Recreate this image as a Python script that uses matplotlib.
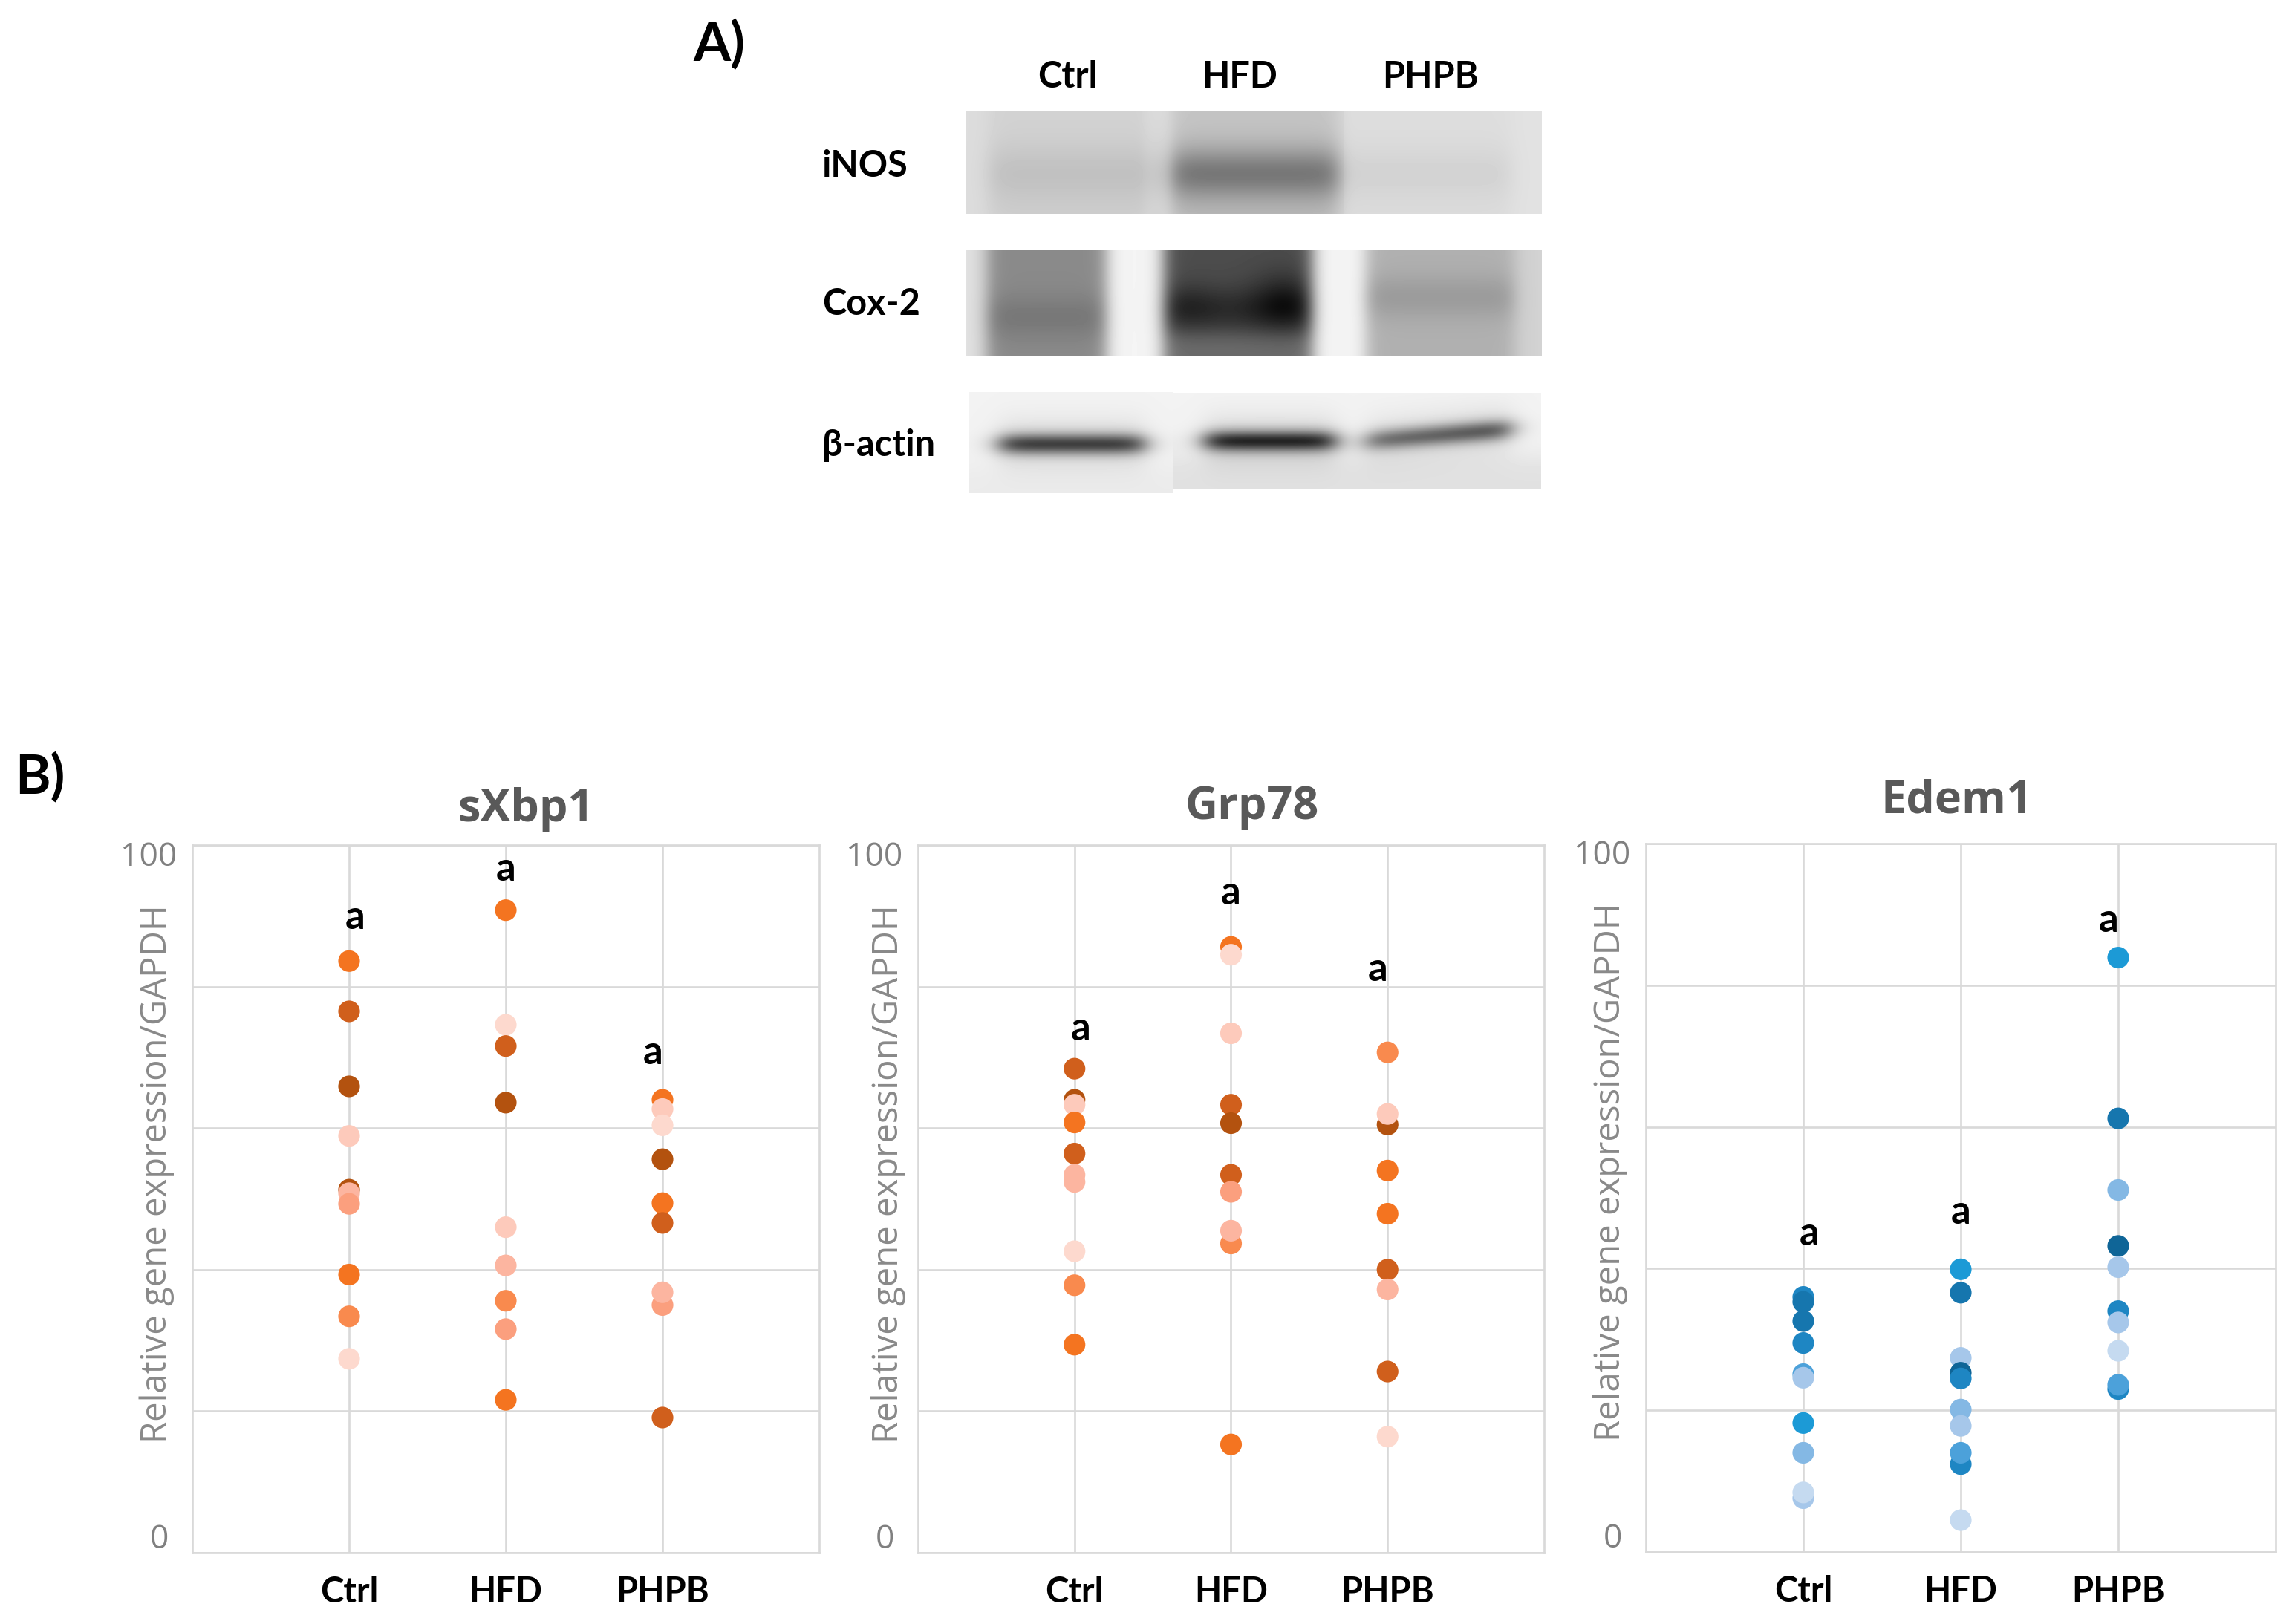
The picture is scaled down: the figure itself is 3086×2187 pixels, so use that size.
import numpy as np
import matplotlib
matplotlib.use('Agg')
import matplotlib.pyplot as plt
from matplotlib.transforms import ScaledTranslation
from matplotlib import font_manager

W, H, DPI = 3086, 2187, 100

# ---------------- data ----------------
groups = ['Ctrl', 'HFD', 'PHPB']
genes = ['sXbp1', 'Grp78', 'Edem1']

# orange shades
O1, O2, O3, O4 = '#F47420', '#D05F1C', '#B3520F', '#F98A4E'
O5, O6, O7, O8 = '#FB9F7E', '#FCB5A0', '#FDCABB', '#FDD9CE'
# blue shades
B1, B2, B3, B4 = '#1C9AD6', '#1E86C3', '#1676AE', '#0F6597'
B5, B6, B7, B8 = '#4CA1DA', '#84B8E4', '#A6C7EA', '#C5DAF0'

sxbp1_ctrl = [83.6, 76.5, 65.9, 58.9, 51.3, 50.8, 49.3, 39.3, 33.4, 27.4]
sxbp1_ctrl_col = [O1, O2, O3, O7, O3, O6, O5, O1, O4, O8]
sxbp1_hfd = [90.8, 74.6, 71.6, 63.6, 46.0, 40.6, 35.6, 31.6, 21.6]
sxbp1_hfd_col = [O1, O8, O2, O3, O7, O6, O4, O5, O1]
sxbp1_phpb = [64.0, 62.7, 60.4, 55.6, 49.4, 46.6, 35.0, 36.8, 19.1]
sxbp1_phpb_col = [O1, O7, O8, O3, O1, O2, O5, O6, O2]

grp78_ctrl = [68.4, 64.0, 63.3, 60.8, 56.4, 53.4, 52.4, 42.6, 37.8, 29.4]
grp78_ctrl_col = [O2, O3, O7, O1, O2, O6, O6, O8, O4, O1]
grp78_hfd = [85.6, 84.5, 73.4, 63.3, 60.7, 53.4, 51.0, 43.7, 45.5, 15.3]
grp78_hfd_col = [O1, O8, O7, O2, O3, O2, O5, O4, O6, O1]
grp78_phpb = [70.7, 60.5, 62.0, 54.0, 47.9, 40.0, 37.2, 25.6, 16.4]
grp78_phpb_col = [O4, O3, O7, O1, O1, O2, O6, O2, O8]

edem1_ctrl = [36.0, 35.3, 32.6, 29.5, 25.1, 24.6, 18.2, 14.0, 7.6, 8.4]
edem1_ctrl_col = [B2, B3, B3, B2, B5, B7, B1, B6, B7, B8]
edem1_hfd = [39.9, 36.6, 27.4, 25.3, 24.5, 20.1, 17.8, 12.4, 14.0, 4.5]
edem1_hfd_col = [B1, B3, B7, B4, B2, B6, B7, B2, B5, B8]
edem1_phpb = [83.9, 61.2, 51.1, 43.2, 40.2, 34.0, 32.4, 28.4, 23.0, 23.6]
edem1_phpb_col = [B1, B3, B6, B4, B7, B2, B7, B8, B2, B5]

# significance letters (centre height of the letter, in axis units)
sxbp1_letter_y = [89.5, 96.3, 70.4]
grp78_letter_y = [73.8, 93.0, 82.2]
edem1_letter_y = [44.7, 47.7, 88.9]
letters = ['a', 'a', 'a']

# western blot relative band darkness (Ctrl, HFD, PHPB)
blot_rows = ['iNOS', 'Cox-2', 'β-actin']
inos_level = [0.07, 0.16, 0.03]
inos_band = [0.04, 0.24, 0.03]
cox2_level = [0.42, 0.66, 0.27]
cox2_band = [0.07, 0.12, 0.08]
actin_band = [0.70, 0.80, 0.62]

series = {
    'sXbp1': [(sxbp1_ctrl, sxbp1_ctrl_col), (sxbp1_hfd, sxbp1_hfd_col), (sxbp1_phpb, sxbp1_phpb_col)],
    'Grp78': [(grp78_ctrl, grp78_ctrl_col), (grp78_hfd, grp78_hfd_col), (grp78_phpb, grp78_phpb_col)],
    'Edem1': [(edem1_ctrl, edem1_ctrl_col), (edem1_hfd, edem1_hfd_col), (edem1_phpb, edem1_phpb_col)],
}
letter_y = {'sXbp1': sxbp1_letter_y, 'Grp78': grp78_letter_y, 'Edem1': edem1_letter_y}

# ---------------- fonts ----------------
names = {f.name for f in font_manager.fontManager.ttflist}
BOLDF = 'Lato' if 'Lato' in names else 'Liberation Sans'
SANS = 'Open Sans' if 'Open Sans' in names else 'DejaVu Sans'
plt.rcParams['font.family'] = [SANS, 'DejaVu Sans']
BF = [BOLDF, 'DejaVu Sans']

fig = plt.figure(figsize=(W / DPI, H / DPI), dpi=DPI)
fig.patch.set_facecolor('white')


def fx(x):
    return x / W


def fy(y):
    return 1 - y / H


def px_axes(l, t, r, b):
    return fig.add_axes([l / W, 1 - b / H, (r - l) / W, (b - t) / H])


def px(dx, dy):
    return ScaledTranslation(dx / DPI, dy / DPI, fig.dpi_scale_trans)


GRID = '#D9D9D9'
panel_px = [(259, 1138, 1103, 2091), (1236, 1138, 2079, 2091), (2216, 1136, 3064, 2090)]
title_pos = [(0.532, 1.050), (0.533, 1.053), (0.493, 1.060)]
ylabel_x = [-0.029, -0.019, -0.028]
letter_dx = [8, 0, -13]

for k, gene in enumerate(genes):
    ax = px_axes(*panel_px[k])
    ax.set_xlim(0, 4)
    ax.set_ylim(0, 100)
    ax.set_axisbelow(True)
    for s in ax.spines.values():
        s.set_color(GRID)
        s.set_linewidth(1.9)
    ax.set_xticks([1, 2, 3])
    ax.set_xticklabels(groups, fontsize=34, fontweight='bold', family=BF, color='black')
    ax.set_yticks([0, 20, 40, 60, 80, 100])
    ax.set_yticklabels(['0', '', '', '', '', '100'], fontsize=32, color='#808080')
    ax.tick_params(axis='both', length=0)
    ax.tick_params(axis='x', pad=22)
    ax.tick_params(axis='y', pad=15)
    ax.grid(True, color=GRID, linewidth=1.9)
    ticks = ax.yaxis.get_major_ticks()
    ticks[0].label1.set_transform(ticks[0].label1.get_transform() + px(-11, 23))
    ticks[-1].label1.set_transform(ticks[-1].label1.get_transform() + px(0, -11))

    for gi, (vals, cols) in enumerate(series[gene]):
        ax.scatter([gi + 1] * len(vals), vals, s=440, c=cols, linewidths=0, zorder=3)
        ax.text(gi + 1, letter_y[gene][gi], letters[gi], ha='center', va='baseline',
                fontsize=38, fontweight='bold', family=BF, color='black',
                transform=ax.transData + px(letter_dx[gi], -13), zorder=4)

    ax.text(title_pos[k][0], title_pos[k][1], gene, transform=ax.transAxes, ha='center', va='center',
            fontsize=44, fontweight='bold', color='#595959')
    ax.set_ylabel('Relative gene expression/GAPDH', fontsize=34, color='#898989')
    ax.yaxis.set_label_coords(ylabel_x[k], 0.536)

# ---------------- panel labels ----------------
fig.text(fx(968), fy(60), 'A)', fontsize=52, fontweight='bold', family=BF, ha='center', va='center')
fig.text(fx(54), fy(1047), 'B)', fontsize=52, fontweight='bold', family=BF, ha='center', va='center')

# ---------------- western blot ----------------
BX0, BY0, BX1, BY1 = 1298, 146, 2078, 668
Xg, Yg = np.meshgrid(np.arange(BX0, BX1) + 0.5, np.arange(BY0, BY1) + 0.5)
dark = np.zeros_like(Xg)


def sbox(x, a, b, soft):
    return 0.5 * (np.tanh((x - a) / soft) - np.tanh((x - b) / soft))


def gauss(y, c, s):
    return np.exp(-((y - c) / s) ** 2)


lanes_x = [(1331, 1567), (1577, 1803), (1818, 2034)]
cox_x = [(1328, 1490), (1567, 1767), (1839, 2039)]
actin_x = [(1346, 1541), (1623, 1798), (1839, 2034)]

# iNOS strip
m1 = (Xg >= 1300) & (Xg <= 2076) & (Yg >= 150) & (Yg <= 288)
d1 = np.where(Xg > 1809, 0.115, 0.135)
d1 = d1 - 0.03 * sbox(Xg, 1540, 1577, 8)
for i, (a, b) in enumerate(lanes_x):
    prof = inos_level[i] * (0.6 + 0.4 * sbox(Yg, 190, 300, 25)) + inos_band[i] * gauss(Yg, 234, 32)
    d1 = d1 + sbox(Xg, a, b, 16) * prof
dark[m1] = d1[m1]

# Cox-2 strip
m2 = (Xg >= 1300) & (Xg <= 2076) & (Yg >= 337) & (Yg <= 480)
d2 = 0.04 + 0.08 * sbox(Xg, 1290, 1326, 10) + 0.14 * sbox(Xg, 2039, 2090, 12)
band_rows = [427, 417, 400]
for i, (a, b) in enumerate(cox_x):
    prof = cox2_level[i] + cox2_band[i] * gauss(Yg, band_rows[i], 30)
    if i == 1:
        prof = (prof + 0.14 * gauss(Xg, 1730, 45) * gauss(Yg, 405, 40)
                - 0.12 * sbox(Yg, 450, 520, 14) + 0.05 * gauss(Xg, 1600, 40) * gauss(Yg, 410, 30))
    d2 = d2 + sbox(Xg, a, b, 13) * prof
dark[m2] = d2[m2]

# beta-actin strip
m3a = (Xg >= 1305) & (Xg < 1580) & (Yg >= 528) & (Yg <= 664)
m3b = (Xg >= 1580) & (Xg <= 2075) & (Yg >= 529) & (Yg <= 659)
d3 = 0.05 + np.where(Xg >= 1580, 0.07 * sbox(Yg, 615, 700, 20), 0.03 * sbox(Yg, 630, 700, 20))
actin_rows = [598, 594, 594]
for i, (a, b) in enumerate(actin_x):
    yc = actin_rows[i] - (16 * (Xg - a) / (b - a) if i == 2 else 0)
    amp = actin_band[i] * (0.8 + 0.2 * (Xg - a) / (b - a) if i == 2 else 1.0)
    d3 = d3 + sbox(Xg, a, b, 20) * amp * (0.85 * gauss(Yg, yc, 14) + 0.15 * gauss(Yg, yc, 34))
m3 = m3a | m3b
dark[m3] = d3[m3]

img = 1 - np.clip(dark, 0, 1)
bax = px_axes(BX0, BY0, BX1, BY1)
bax.imshow(img, cmap='gray', vmin=0, vmax=1, extent=(BX0, BX1, BY1, BY0), aspect='auto',
           interpolation='bilinear')
bax.set_xlim(BX0, BX1)
bax.set_ylim(BY1, BY0)
bax.axis('off')

header_x = [1437, 1669, 1926]
for g, x in zip(groups, header_x):
    fig.text(fx(x), fy(103), g, fontsize=35, fontweight='bold', family=BF, ha='center', va='center')
row_y = [224, 410, 599]
for r, y in zip(blot_rows, row_y):
    fig.text(fx(1107), fy(y), r, fontsize=35, fontweight='bold', family=BF, ha='left', va='center')

fig.savefig('out.png', dpi=DPI, facecolor='white')
